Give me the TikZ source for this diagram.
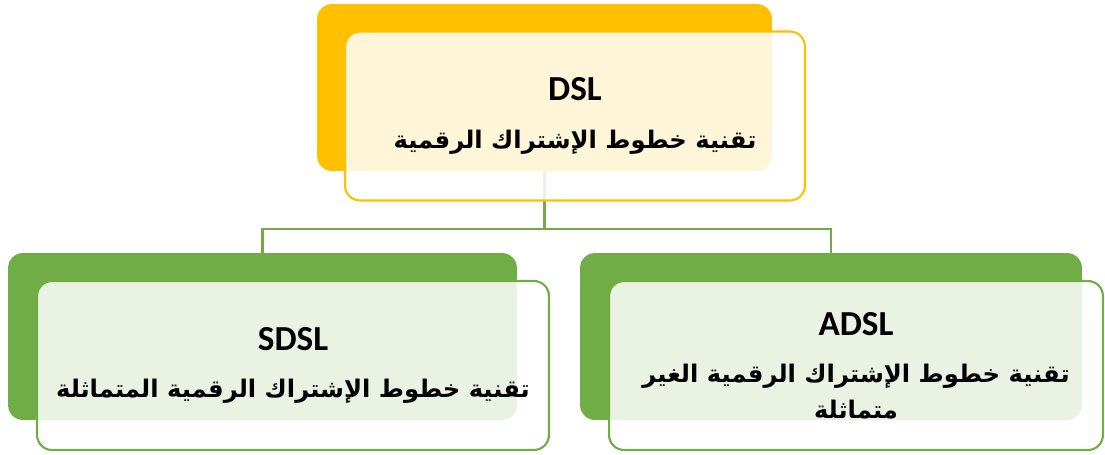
\documentclass[tikz,border=0pt]{standalone}
\usepackage{fontspec}
\setmainfont{Carlito}
\newfontfamily\arabicfont[Script=Arabic]{DejaVu Sans}
\TeXXeTstate=1
\definecolor{gold}{HTML}{FFC000}
\definecolor{leaf}{HTML}{70AD47}
\tikzset{
  back/.style={rounded corners=0.3cm, inner sep=0pt, minimum height=3.34cm},
  front/.style={rounded corners=0.3cm, draw, line width=1.2pt, fill=white,
    fill opacity=0.85, text opacity=1, align=center, inner sep=0pt,
    font=\fontsize{20}{27}\selectfont\bfseries, minimum height=3.38cm},
}
\newcommand{\ar}[1]{{\arabicfont\fontsize{13.8}{20}\selectfont\beginR #1\endR}}
\begin{document}
\begin{tikzpicture}[x=0.02cm,y=-0.02cm]
      \useasboundingbox (0,0) rectangle (1105,454);
      \draw
        (544.5,87.5) node[back, fill=gold, minimum width=9.1cm] (dslback){}
        (262.5,336.5) node[back, fill=leaf, minimum width=10.18cm] (sdslback){}
        (831,336.5) node[back, fill=leaf, minimum width=10.04cm] (adslback){};
      \begin{scope}[leaf, line width=1.2pt]
        \draw (dslback.south) -- ++(0,58) coordinate (split);
        \draw (split) -| (sdslback.north);
        \draw (split) -| (adslback.north);
      \end{scope}
      \draw
        (575,116) node[front, draw=gold, minimum width=9.2cm] (dsl)
          {DSL\\\ar{تقنية خطوط الإشتراك الرقمية}}
        (293,365.5) node[front, draw=leaf, minimum width=10.24cm] (sdsl)
          {SDSL\\\ar{تقنية خطوط الإشتراك الرقمية المتماثلة}}
        (856,365.5) node[front, draw=leaf, minimum width=9.88cm] (adsl)
          {ADSL\\\ar{تقنية خطوط الإشتراك الرقمية الغير}\\[-7pt]\ar{متماثلة}};
    \end{tikzpicture}
\end{document}
